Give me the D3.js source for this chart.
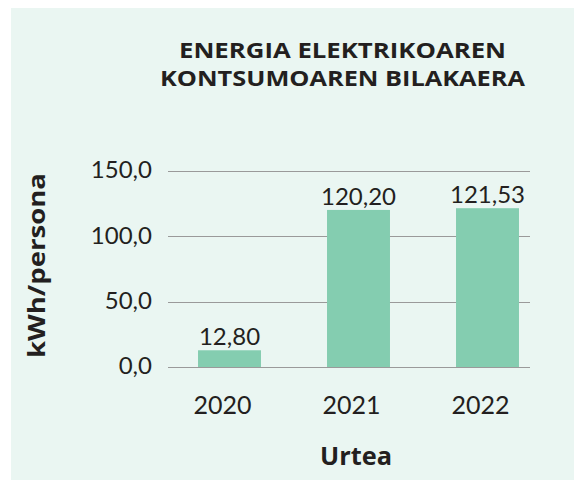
<!DOCTYPE html>
<html>
<head>
<meta charset="utf-8">
<script src="https://cdn.jsdelivr.net/npm/d3@7"></script>
<style>
  html, body { margin: 0; padding: 0; background: #ffffff; }
  svg { display: block; }
  text { font-family: Lato, "Noto Sans", sans-serif; fill: #231f20; }
</style>
</head>
<body>
<svg id="chart" width="574" height="480"></svg>
<script>
const categories = ["2020", "2021", "2022"];
const values = [12.80, 120.20, 121.53];
const valueLabels = ["12,80", "120,20", "121,53"];
const yTicks = [0, 50, 100, 150];
const yTickLabels = ["0,0", "50,0", "100,0", "150,0"];
const titleLines = ["ENERGIA ELEKTRIKOAREN", "KONTSUMOAREN BILAKAERA"];
const titleWidths = [327, 365];
const xTitle = "Urtea";
const yTitle = "kWh/persona";

const svg = d3.select("#chart");

svg.append("rect")
  .attr("x", 11).attr("y", 8)
  .attr("width", 574 - 11).attr("height", 480 - 8)
  .attr("fill", "#eaf6f2");

const y = d3.scaleLinear().domain([0, 150]).range([367, 171]);
const x = d3.scaleBand().domain(categories).range([165, 552])
  .paddingInner(0.512).paddingOuter(0.256);

// gridlines
svg.append("g").selectAll("line").data(yTicks).join("line")
  .attr("x1", 168).attr("x2", 530)
  .attr("y1", d => Math.round(y(d)) + 0.5).attr("y2", d => Math.round(y(d)) + 0.5)
  .attr("stroke", "#9a9a9a").attr("stroke-width", 1.2);

// y axis labels
const yAxis = d3.axisLeft(y).tickValues(yTicks)
  .tickFormat((d, i) => yTickLabels[i]).tickSize(0).tickPadding(0);
const gy = svg.append("g").attr("transform", "translate(152,0)").call(yAxis);
gy.select(".domain").remove();
gy.selectAll("text").style("font-family", "Lato, sans-serif").style("font-size", "24px")
  .attr("fill", "#231f20").attr("dy", "0.28em");

// bars
svg.append("g").selectAll("rect").data(values).join("rect")
  .attr("x", (d, i) => x(categories[i]))
  .attr("width", x.bandwidth())
  .attr("y", d => y(d))
  .attr("height", d => y(0) - y(d))
  .attr("fill", "#84cdb0");

// value labels
svg.append("g").selectAll("text").data(values).join("text")
  .attr("x", (d, i) => x(categories[i]) + x.bandwidth() / 2)
  .attr("y", d => y(d) - 5)
  .attr("text-anchor", "middle")
  .style("font-size", "24px")
  .text((d, i) => valueLabels[i]);

// x axis labels
const xAxis = d3.axisBottom(x).tickSize(0).tickPadding(0);
const gx = svg.append("g").attr("transform", "translate(-7,396)").call(xAxis);
gx.select(".domain").remove();
gx.selectAll("text").style("font-family", "Lato, sans-serif").style("font-size", "25px")
  .attr("fill", "#231f20").attr("dy", "0.71em");

// axis titles
svg.append("text")
  .attr("x", 356).attr("y", 465)
  .attr("text-anchor", "middle")
  .attr("textLength", 72).attr("lengthAdjust", "spacingAndGlyphs")
  .style("font-family", "'Open Sans', Lato, sans-serif")
  .style("font-size", "25px").style("font-weight", "bold")
  .text(xTitle);

svg.append("text")
  .attr("transform", "translate(45,265.5) rotate(-90)")
  .attr("text-anchor", "middle")
  .attr("textLength", 185).attr("lengthAdjust", "spacingAndGlyphs")
  .style("font-family", "'Open Sans', Lato, sans-serif")
  .style("font-size", "23px").style("font-weight", "bold")
  .text(yTitle);

// title
svg.append("g").selectAll("text").data(titleLines).join("text")
  .attr("x", 342.5)
  .attr("y", (d, i) => 58 + i * 28)
  .attr("text-anchor", "middle")
  .attr("textLength", (d, i) => titleWidths[i]).attr("lengthAdjust", "spacingAndGlyphs")
  .style("font-family", "'Open Sans', Lato, sans-serif")
  .style("font-size", "21.5px").style("font-weight", "bold")
  .text(d => d);
</script>
</body>
</html>
